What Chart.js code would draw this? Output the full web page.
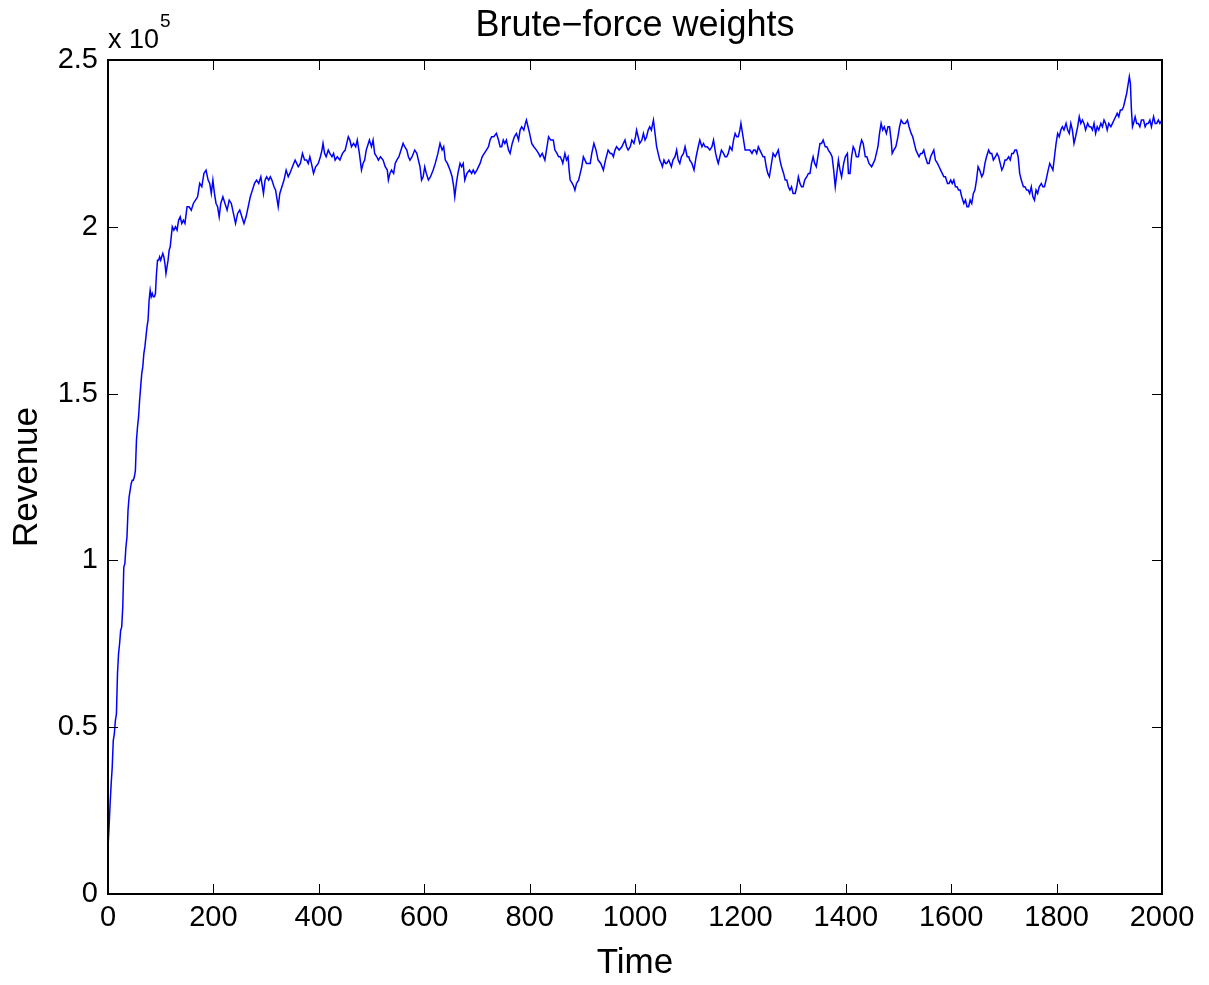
<!DOCTYPE html>
<html><head><meta charset="utf-8">
<script src="https://cdn.jsdelivr.net/npm/chart.js@4/dist/chart.umd.min.js"></script>
<style>html,body{margin:0;padding:0;background:#fff;overflow:hidden}#wrap{width:1209px;height:985px;position:relative}</style>
</head><body><div id="wrap"><canvas id="c" width="1209" height="985"></canvas></div>
<script>
const chartTitle = 'Brute\u2212force weights';
const xTitle = 'Time';
const yTitle = 'Revenue';
const exponentBase = 'x 10';
const exponentPower = '5';
const xTicks = [0, 200, 400, 600, 800, 1000, 1200, 1400, 1600, 1800, 2000];
const yTicks = [0, 50000, 100000, 150000, 200000, 250000];
const yTickLabels = ['0', '0.5', '1', '1.5', '2', '2.5'];

const time = [
0,2,4,6,8,10,12,14,16,18,
20,22,24,26,28,30,32,34,36,38,
40,42,44,46,48,50,52,54,56,58,
60,62,64,66,68,70,72,74,76,78,
80,82,84,86,88,90,92,94,96,98,
100,102,104,106,108,110,112,114,116,118,
120,122,125,128,131,134,137,140,143,146,
150,154,158,162,166,170,174,178,182,186,
190,193,196,199,202,205,208,211,214,218,
222,226,230,234,238,242,246,250,254,258,
262,266,270,274,278,282,286,290,295,298,
301,305,308,311,315,318,321,323,326,330,
334,338,342,345,350,355,358,361,365,369,
373,377,380,383,386,390,394,399,403,406,
408,411,414,418,421,425,428,431,435,440,
445,450,453,456,459,462,466,470,473,477,
481,484,487,490,494,496,500,503,506,510,
513,517,522,526,530,532,535,538,542,545,
548,552,556,560,563,567,570,573,577,582,
586,589,592,595,598,601,604,608,612,617,
621,626,630,634,637,640,644,649,653,656,
658,661,664,668,671,674,677,681,686,690,
693,696,700,706,710,714,718,722,725,728,
732,737,741,744,747,750,753,756,760,763,
767,771,775,779,782,785,789,792,794,797,
800,804,808,813,817,820,824,829,832,836,
840,845,848,852,855,858,861,863,867,870,
873,875,877,881,884,886,889,893,896,899,
902,905,908,912,915,918,922,926,930,935,
940,944,949,953,956,959,962,965,970,975,
978,981,984,987,991,994,998,1001,1003,1006,
1009,1013,1016,1019,1022,1025,1028,1031,1035,1038,
1041,1044,1047,1050,1052,1055,1058,1060,1064,1069,
1072,1076,1079,1082,1085,1088,1092,1095,1099,1102,
1104,1108,1112,1116,1120,1123,1127,1130,1133,1137,
1142,1146,1149,1153,1156,1158,1161,1164,1168,1171,
1174,1177,1180,1184,1187,1190,1193,1196,1199,1201,
1204,1207,1209,1213,1218,1222,1225,1228,1231,1234,
1237,1240,1243,1246,1249,1252,1255,1258,1262,1266,
1269,1272,1275,1278,1282,1285,1288,1291,1294,1297,
1300,1304,1307,1310,1313,1316,1319,1322,1326,1329,
1332,1335,1338,1341,1344,1348,1351,1354,1357,1361,
1364,1367,1371,1374,1377,1380,1383,1386,1389,1392,
1396,1399,1403,1405,1408,1411,1414,1417,1420,1424,
1427,1430,1433,1437,1440,1444,1449,1452,1455,1458,
1461,1464,1467,1470,1473,1477,1480,1483,1486,1488,
1491,1495,1499,1502,1505,1509,1513,1517,1520,1524,
1527,1530,1533,1536,1539,1542,1545,1548,1551,1555,
1558,1561,1564,1567,1570,1574,1577,1580,1583,1586,
1589,1593,1596,1599,1602,1605,1608,1611,1614,1617,
1620,1624,1627,1630,1633,1636,1639,1642,1645,1648,
1651,1654,1658,1661,1664,1667,1671,1674,1677,1680,
1684,1687,1690,1693,1696,1699,1702,1705,1709,1712,
1715,1718,1721,1724,1727,1730,1733,1737,1740,1743,
1746,1749,1752,1755,1758,1761,1764,1767,1771,1774,
1777,1780,1784,1787,1790,1793,1796,1799,1802,1805,
1808,1811,1814,1818,1821,1824,1827,1830,1833,1836,
1840,1843,1846,1849,1852,1855,1859,1862,1865,1868,
1871,1874,1877,1880,1884,1887,1890,1893,1896,1899,
1903,1906,1909,1912,1915,1918,1921,1924,1927,1930,
1933,1936,1938,1940,1942,1944,1946,1949,1952,1955,
1958,1961,1965,1968,1971,1974,1977,1980,1984,1987,
1990,1993,1996,2000
];

const revenue = [
14000,20000,27000,33000,38000,46000,48000,52000,54000,66000,
72000,75000,79000,80000,86000,98000,99000,104000,107000,115000,
119000,121000,123000,124000,124000,125000,127000,136000,140000,143000,
148000,152000,156000,158000,162000,164000,167000,170000,172000,178000,
181000,179000,180000,179000,179000,180000,186000,190000,190000,191000,
190000,191000,192000,191000,189000,186000,188000,190000,193000,194000,
197000,200000,199000,200000,199000,202000,203000,201000,202000,201000,
206000,206000,205000,207000,208000,209000,213000,212000,216000,217000,
214000,213000,210000,214000,210000,207000,206000,203000,207000,209000,
207000,205000,208000,207000,204000,201000,204000,205000,203000,201000,
203000,206000,209000,211000,213000,214000,213000,215000,210000,214000,
215000,214000,215000,214000,212000,211000,208000,206000,210000,212000,
214000,217000,215000,216000,218000,220000,219000,218000,219000,222000,
220000,220000,219000,221000,219000,216000,218000,219000,221000,223000,
225000,222000,221000,223000,222000,221000,222000,220000,221000,220000,
222000,223000,225000,227000,226000,224000,225000,224000,226000,222000,
217000,219000,220000,223000,225000,226000,224000,226000,222000,221000,
220000,221000,220000,218000,217000,214000,216000,217000,216000,219000,
220000,221000,223000,225000,224000,223000,221000,220000,221000,223000,
222000,220000,218000,214000,215000,218000,216000,214000,215000,217000,
219000,222000,225000,223000,224000,220000,219000,217000,215000,212000,
209000,213000,216000,219000,218000,219000,214000,216000,217000,216000,
217000,216000,217000,219000,221000,222000,223000,224000,226000,227000,
227000,228000,226000,224000,224000,226000,225000,226000,223000,222000,
225000,227000,228000,226000,229000,230000,229000,231000,232000,230000,
228000,225000,224000,223000,222000,221000,222000,220000,223000,227000,
226000,226000,223000,222000,221000,221000,220000,219000,222000,220000,
221000,217000,214000,213000,212000,211000,213000,214000,216000,218000,
221000,220000,219000,219000,219000,222000,225000,223000,220000,219000,
217000,220000,223000,222000,222000,221000,223000,224000,223000,224000,
225000,226000,224000,223000,224000,226000,225000,227000,229000,227000,
225000,226000,228000,226000,227000,229000,230000,229000,232000,228000,
224000,222000,220000,219000,218000,220000,219000,219000,220000,218000,
220000,221000,223000,220000,219000,221000,222000,224000,221000,221000,
220000,219000,217000,221000,224000,226000,224000,225000,224000,224000,
223000,224000,226000,222000,220000,219000,221000,223000,222000,221000,
221000,222000,224000,223000,226000,228000,227000,227000,229000,231000,
228000,225000,223000,223000,223000,222000,223000,223000,222000,224000,
223000,222000,221000,221000,218000,216000,215000,218000,222000,221000,
222000,223000,220000,218000,216000,214000,214000,212000,211000,212000,
210000,210000,212000,215000,213000,212000,212000,214000,215000,216000,
216000,219000,221000,219000,218000,222000,225000,225000,226000,224000,
224000,223000,222000,221000,217000,212000,216000,220000,217000,215000,
219000,221000,222000,216000,216000,221000,224000,223000,221000,221000,
224000,226000,225000,221000,221000,219000,218000,219000,220000,222000,
224000,228000,231000,229000,230000,228000,230000,230000,226000,222000,
223000,224000,227000,230000,232000,231000,231000,232000,230000,228000,
227000,225000,223000,222000,221000,222000,222000,223000,221000,219000,
219000,221000,222000,223000,220000,219000,218000,217000,216000,215000,
215000,213000,213000,214000,213000,214000,212000,212000,211000,211000,
209000,207000,208000,206000,206000,208000,207000,210000,211000,214000,
218000,217000,215000,216000,219000,221000,223000,222000,222000,220000,
221000,222000,221000,219000,217000,218000,220000,220000,221000,220000,
222000,222000,223000,223000,221000,216000,214000,212000,212000,211000,
211000,210000,212000,209000,208000,211000,210000,212000,213000,212000,
212000,214000,217000,219000,218000,217000,221000,225000,228000,227000,
229000,230000,229000,231000,229000,228000,231000,229000,225000,227000,
230000,233000,231000,232000,231000,229000,231000,230000,230000,229000,
231000,228000,230000,229000,231000,230000,232000,231000,229000,231000,
230000,231000,232000,233000,234000,233000,235000,235000,236000,238000,
240000,243000,245000,243000,235000,230000,231000,233000,231000,231000,
230000,232000,232000,230000,231000,231000,232000,230000,233000,231000,
231000,232000,231000,232000
];

const FONT = "'Liberation Sans', Arial, Helvetica, sans-serif";
const points = [];
const n = Math.min(time.length, revenue.length);
for (let i = 0; i < n; i++) points.push({x: time[i], y: revenue[i]});

const framePlugin = {
  id: 'frame',
  afterDatasetsDraw(chart) {
    const {ctx, chartArea: a, scales} = chart;
    const xs = scales.x, ys = scales.y;
    ctx.save();
    ctx.strokeStyle = '#000';
    ctx.lineWidth = 1;
    ctx.beginPath();
    xTicks.forEach(v => {
      const px = Math.round(xs.getPixelForValue(v)) + 0.5;
      ctx.moveTo(px, a.bottom); ctx.lineTo(px, a.bottom - 10);
      ctx.moveTo(px, a.top); ctx.lineTo(px, a.top + 10);
    });
    yTicks.forEach(v => {
      const py = Math.round(ys.getPixelForValue(v)) + 0.5;
      ctx.moveTo(a.left, py); ctx.lineTo(a.left + 10, py);
      ctx.moveTo(a.right, py); ctx.lineTo(a.right - 10, py);
    });
    ctx.stroke();
    ctx.lineWidth = 2;
    ctx.strokeRect(a.left, a.top, a.right - a.left, a.bottom - a.top);
    ctx.fillStyle = '#000';
    ctx.textBaseline = 'alphabetic';
    ctx.textAlign = 'center';
    ctx.font = '36px ' + FONT;
    ctx.fillText(chartTitle, (a.left + a.right) / 2, 36);
    ctx.textAlign = 'left';
    ctx.font = '27px ' + FONT;
    ctx.fillText(exponentBase, a.left, 48);
    const w = ctx.measureText(exponentBase).width;
    ctx.font = '19px ' + FONT;
    ctx.fillText(exponentPower, a.left + w + 1, 27);
    ctx.restore();
  }
};

new Chart(document.getElementById('c'), {
  type: 'line',
  data: {datasets: [{data: points, borderColor: '#0000ff', borderWidth: 1.5, pointRadius: 0, tension: 0, fill: false}]},
  options: {
    responsive: false, animation: false, devicePixelRatio: 1,
    layout: {padding: {left: 0, right: 47, top: 60, bottom: 0}},
    plugins: {legend: {display: false}, tooltip: {enabled: false}, title: {display: false}},
    scales: {
      x: {
        type: 'linear', min: 0, max: 2000,
        afterBuildTicks: s => { s.ticks = xTicks.map(v => ({value: v})); },
        ticks: {color: '#000', font: {family: FONT, size: 29}, padding: 7, maxRotation: 0, autoSkip: false,
          callback: (v) => String(v)},
        grid: {display: false, drawTicks: false}, border: {display: false},
        title: {display: true, text: xTitle, color: '#000', font: {family: FONT, size: 35}, padding: {top: 0, bottom: 1}},
        afterFit: s => { s.height = 91; }
      },
      y: {
        type: 'linear', min: 0, max: 250000,
        afterBuildTicks: s => { s.ticks = yTicks.map(v => ({value: v})); },
        ticks: {color: '#000', font: {family: FONT, size: 29}, padding: 10, autoSkip: false,
          callback: (v) => yTickLabels[yTicks.indexOf(v)]},
        grid: {display: false, drawTicks: false}, border: {display: false},
        title: {display: true, text: yTitle, color: '#000', font: {family: FONT, size: 35}, padding: {top: 6, bottom: 0}},
        afterFit: s => { s.width = 108; }
      }
    }
  },
  plugins: [framePlugin]
});
</script>
</body></html>
